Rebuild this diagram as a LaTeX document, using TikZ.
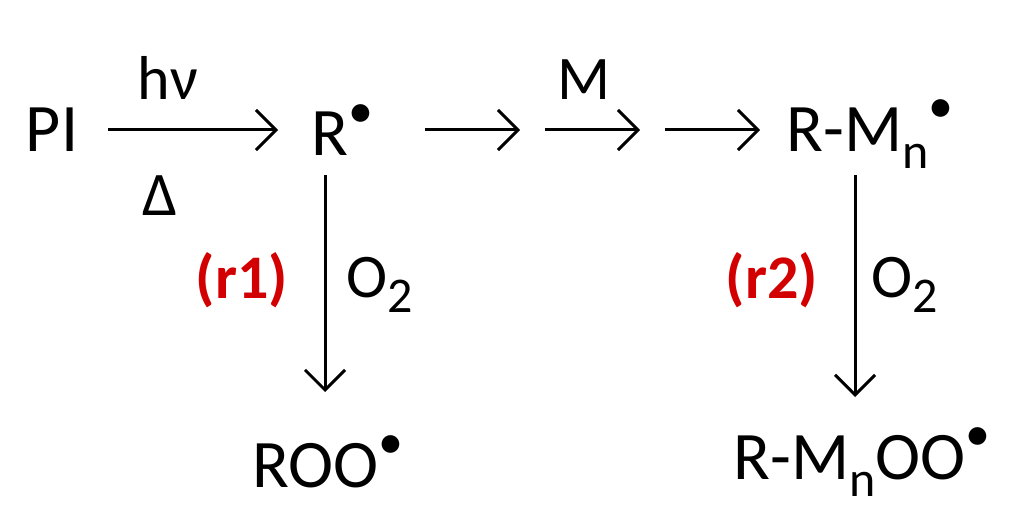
\documentclass[tikz,border=0pt]{standalone}
\usepackage{fontspec}
\setmainfont{Carlito}
\usetikzlibrary{arrows.meta}
\definecolor{rred}{RGB}{210,0,0}
\newcommand{\rad}{\raisebox{0.42em}{\fontsize{50pt}{50pt}\selectfont\textbullet}}
\newcommand{\subn}[1]{\raisebox{-0.25em}{\fontsize{50pt}{50pt}\selectfont #1}}
\begin{document}
\begin{tikzpicture}[x=1pt,y=-1pt,
  txt/.style={font=\fontsize{68pt}{70pt}\selectfont, inner sep=0pt},
  lbl/.style={font=\fontsize{62pt}{64pt}\selectfont, inner sep=0pt},
  arr/.style={line width=3pt,-{Straight Barb[length=20pt,width=40pt,line width=3pt]}}]
\useasboundingbox (0,0) rectangle (1024,518);
\node[txt] (pi) at (52,130) {PI};
\node[txt] (r) at (342,130) {R\rad};
\node[txt] (rm) at (870,134) {R-M\subn{n}\rad};
\node[txt] (roo) at (328,462) {ROO\rad};
\node[txt] (rmoo) at (862,462) {R-M\subn{n}OO\rad};
\coordinate (a1) at (108,130); \coordinate (b1) at (278,130);
\coordinate (a2) at (425,130); \coordinate (b2) at (520,130);
\coordinate (a3) at (545,130); \coordinate (b3) at (640,130);
\coordinate (a4) at (665,130); \coordinate (b4) at (760,130);
\coordinate (v1a) at (325,175); \coordinate (v1b) at (325,392);
\coordinate (v2a) at (855,175); \coordinate (v2b) at (855,397);
\draw[arr] (a1) -- (b1);
\draw[arr] (a2) -- (b2);
\draw[arr] (a3) -- (b3);
\draw[arr] (a4) -- (b4);
\draw[arr] (v1a) -- (v1b);
\draw[arr] (v2a) -- (v2b);
\node[lbl] (hv) at (168,78) {hν};
\node[lbl] (dl) at (160,196) {Δ};
\node[lbl] (m) at (584,80) {M};
\node[lbl,text=rred,font=\fontsize{62pt}{64pt}\selectfont\bfseries] (r1) at (242,280) {(r1)};
\node[lbl] (o1) at (380,285) {O\subn{2}};
\node[lbl,text=rred,font=\fontsize{62pt}{64pt}\selectfont\bfseries] (r2) at (772,280) {(r2)};
\node[lbl] (o2) at (905,285) {O\subn{2}};
\end{tikzpicture}
\end{document}
